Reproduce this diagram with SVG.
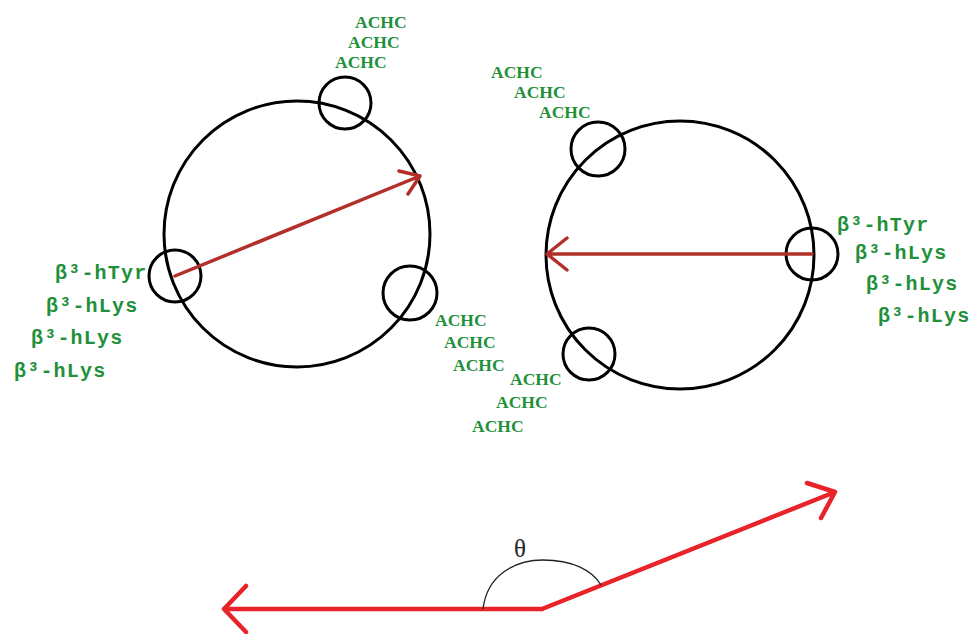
<svg xmlns="http://www.w3.org/2000/svg" width="969" height="634" viewBox="0 0 969 634">
  <style>
    .ring { fill: none; stroke: #000; stroke-width: 3; }
    .res { fill: none; stroke: #000; stroke-width: 3; }
    .dipole { fill: none; stroke: #b3302a; stroke-width: 3.5; stroke-linecap: round; stroke-linejoin: round; }
    .vec { fill: none; stroke: #e8232a; stroke-width: 4.5; stroke-linecap: round; stroke-linejoin: round; }
    .achc { font-family: "Liberation Serif", serif; font-weight: bold; font-size: 17.5px; fill: #22903a; }
    .beta { font-family: "Liberation Mono", monospace; font-weight: bold; font-size: 20px; letter-spacing: 1.2px; fill: #22903a; }
    .theta { font-family: "Liberation Serif", serif; font-size: 25px; fill: #222; }
  </style>
  <rect width="969" height="634" fill="#fff"/>

  <!-- helix wheel A -->
  <g id="helix-a">
    <circle class="ring" cx="297" cy="234" r="133"/>
    <circle class="res" cx="345" cy="103" r="26"/>
    <circle class="res" cx="175" cy="276" r="26"/>
    <circle class="res" cx="410" cy="293" r="27"/>
    <text class="achc" x="355" y="28">ACHC</text>
    <text class="achc" x="348" y="48">ACHC</text>
    <text class="achc" x="335" y="68">ACHC</text>
    <text class="achc" x="435" y="326">ACHC</text>
    <text class="achc" x="444" y="348">ACHC</text>
    <text class="achc" x="453" y="371">ACHC</text>
    <text class="beta" x="55" y="279">β³-hTyr</text>
    <text class="beta" x="46" y="312">β³-hLys</text>
    <text class="beta" x="31" y="344">β³-hLys</text>
    <text class="beta" x="14" y="377">β³-hLys</text>
  </g>

  <!-- helix wheel B -->
  <g id="helix-b">
    <circle class="ring" cx="680" cy="255" r="134"/>
    <circle class="res" cx="598" cy="149" r="27"/>
    <circle class="res" cx="812" cy="254" r="26"/>
    <circle class="res" cx="589" cy="354" r="26"/>
    <text class="achc" x="491" y="78">ACHC</text>
    <text class="achc" x="514" y="98">ACHC</text>
    <text class="achc" x="539" y="118">ACHC</text>
    <text class="achc" x="510" y="385">ACHC</text>
    <text class="achc" x="496" y="408">ACHC</text>
    <text class="achc" x="472" y="432">ACHC</text>
    <text class="beta" x="837" y="231">β³-hTyr</text>
    <text class="beta" x="855" y="259">β³-hLys</text>
    <text class="beta" x="866" y="290">β³-hLys</text>
    <text class="beta" x="878" y="322">β³-hLys</text>
  </g>

  <!-- dipole arrows and angle between them -->
  <g id="connectors">
    <path class="dipole" d="M175,276 L420,176 M399,171 L420,176 L408,194"/>
    <path class="dipole" d="M812,254 L547,254 M567,238 L547,254 L567,270"/>
    <path class="vec" d="M542,609 L224,609 M246,586 L224,609 L246,632"/>
    <path class="vec" d="M542,609 L835,492 M807,483 L835,492 L821,518"/>
    <path d="M483,609 C487,575 515,560 543,560 C572,560 592,570 601,585" fill="none" stroke="#222" stroke-width="1.3"/>
    <text class="theta" x="514" y="557">θ</text>
  </g>
</svg>
